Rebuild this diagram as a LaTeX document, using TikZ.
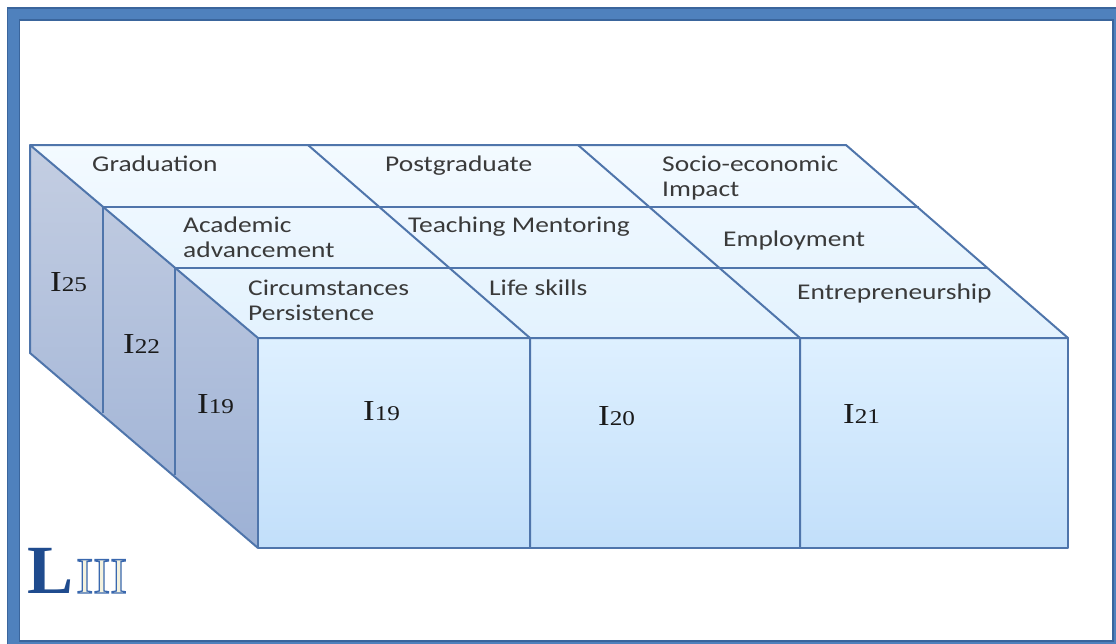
\documentclass[tikz,border=0pt]{standalone}
\usepackage{fontspec}
\newfontfamily\labfont[FakeStretch=1.22]{Carlito}
\newfontfamily\serfont[FakeStretch=1.2]{Liberation Serif}
\newfontfamily\romfont{Liberation Serif}
\newfontfamily\IIIfont[FakeBold=2.5]{Liberation Serif}
\definecolor{edgec}{HTML}{4F75AB}
\definecolor{framec}{HTML}{4F81BD}
\definecolor{framedark}{HTML}{3A659C}
\definecolor{txtc}{HTML}{3A3A3A}
\definecolor{ilc}{HTML}{1A1A1A}
\definecolor{topA}{HTML}{F3FAFF}
\definecolor{topB}{HTML}{E3F2FE}
\definecolor{frontA}{HTML}{DEF0FF}
\definecolor{frontB}{HTML}{C2DFFA}
\definecolor{sideA}{HTML}{C4CEE2}
\definecolor{sideB}{HTML}{9DB1D5}
\definecolor{Ldark}{HTML}{1F4B8E}
\definecolor{IIIfill}{HTML}{F4F2DE}
\newcommand\ilab[1]{{\fontsize{29}{30}\selectfont I}{\fontsize{21}{22}\selectfont #1}}
\begin{document}
\begin{tikzpicture}[x=1pt,y=-1pt,
  lab/.style={font=\labfont\fontsize{22.5}{25}\selectfont, text=txtc, inner sep=0pt, anchor=base west, align=left},
  ilabel/.style={font=\serfont, text=ilc, inner sep=0pt, anchor=base west},
  edge/.style={draw=edgec, line width=2pt, line join=round}]
\useasboundingbox (0,0) rectangle (1116,643);
\clip (0,0) rectangle (1116,643);
% frame
\draw[framec, line width=12pt] (13.5,14) rectangle (1119,647);
\draw[framedark, line width=1.2pt] (19.5,20) rectangle (1113,641);
\draw[framedark, line width=1.2pt] (7.5,8) rectangle (1126,654);
% faces
\shade[top color=topA, bottom color=topB] (30,145) -- (846,145) -- (1068,338) -- (258,338) -- cycle;
\shade[top color=frontA, bottom color=frontB] (258,338) rectangle (1068,548);
\shade[top color=sideA, bottom color=sideB] (30,145) -- (258,338) -- (258,548) -- (30,353) -- cycle;
% edges
\draw[edge] (30,145) -- (846,145) -- (1068,338) -- (258,338) -- cycle;
\draw[edge] (258,338) rectangle (1068,548);
\draw[edge] (30,145) -- (30,353) -- (258,548);
\draw[edge] (103,207) -- (919,207);
\draw[edge] (175,268) -- (988,268);
\draw[edge] (308,145) -- (530,338) -- (530,548);
\draw[edge] (578,145) -- (800,338) -- (800,548);
\draw[edge] (103,207) -- (103,413);
\draw[edge] (175,268) -- (175,475);
% top labels
\node[lab] (grad) at (92,171) {Graduation};
\node[lab] (post) at (385,171) {Postgraduate};
\node[lab] (socio) at (662,196) {Socio-economic\\Impact};
\node[lab] (acad) at (183,257) {Academic\\advancement};
\node[lab] (teach) at (408,232) {Teaching Mentoring};
\node[lab] (empl) at (723,246) {Employment};
\node[lab] (circ) at (248,320) {Circumstances\\Persistence};
\node[lab] (life) at (489,295) {Life skills};
\node[lab] (entr) at (797,299) {Entrepreneurship};
% I labels
\node[ilabel] (i25) at (50,291) {\ilab{25}};
\node[ilabel] (i22) at (123,353) {\ilab{22}};
\node[ilabel] (i19s) at (197,413) {\ilab{19}};
\node[ilabel] (i19f) at (363,420) {\ilab{19}};
\node[ilabel] (i20) at (598,425) {\ilab{20}};
\node[ilabel] (i21) at (843,423) {\ilab{21}};
% LIII
\node[inner sep=0pt, anchor=base west, text=Ldark, font=\romfont\bfseries\fontsize{69}{70}\selectfont] (L) at (27,593) {L};
\node[inner sep=0pt, anchor=base west, font=\IIIfont\fontsize{51}{52}\selectfont] (III) at (76,593) {\color{IIIfill}\special{pdf:code 0.227 0.408 0.682 RG}III};
\end{tikzpicture}
\end{document}
